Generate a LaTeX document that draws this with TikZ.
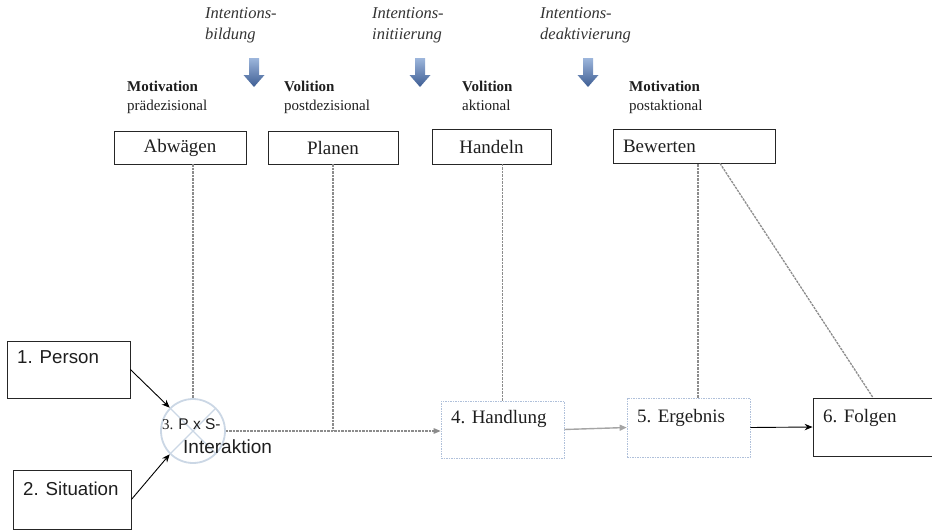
\documentclass[tikz,border=0pt]{standalone}
\usepackage{fontspec}
\setmainfont{Liberation Serif}
\newfontfamily\arialf{Liberation Sans}
\usetikzlibrary{arrows.meta,calc}
\definecolor{dgray}{HTML}{8C8C8C}
\definecolor{lgray}{HTML}{A5A5A5}
\definecolor{lblue}{HTML}{AFC0DA}
\definecolor{cblue}{HTML}{CBD7E5}
\definecolor{abluetop}{HTML}{9DB6DC}
\definecolor{abluebot}{HTML}{3D5D93}
\definecolor{txt}{HTML}{1E1E1E}
\tikzset{
  topbox/.style={draw=black!85, line width=0.8pt, minimum height=33pt, inner sep=0pt, font=\fontsize{19}{22}\selectfont, text=txt},
  lowbox/.style={draw=lblue, line width=0.7pt, dash pattern=on 1.5pt off 1pt, inner sep=0pt},
  solidbox/.style={draw=black!85, line width=0.8pt, inner sep=0pt},
  lbl/.style={anchor=base west, inner sep=0pt, text=txt},
  boxlbl/.style={lbl, font=\fontsize{19}{22}\selectfont},
  sanslbl/.style={lbl, font=\arialf\fontsize{18.7}{22}\selectfont},
  phase/.style={anchor=base west, inner sep=0pt, text=txt, font=\fontsize{15}{19}\selectfont, align=left},
  intent/.style={anchor=base west, inner sep=0pt, text=black!80, font=\itshape\fontsize{16.5}{21}\selectfont, align=left},
  dline/.style={draw=dgray, line width=1.3pt, dash pattern=on 2.5pt off 1pt},
  blackarrow/.style={draw=black, line width=0.9pt, -{Stealth[length=8pt,width=6.5pt]}},
  grayarrow/.style={draw=lgray, line width=1.4pt, -{Triangle[length=7pt,width=6pt]}},
  blockarrow/.pic={
    \shade[top color=abluetop, bottom color=abluebot]
      (-5,0) -- (5,0) -- (5,17) -- (10.5,17) -- (0,29) -- (-10.5,17) -- (-5,17) -- cycle;
  }
}
\begin{document}
\begin{tikzpicture}[x=1pt,y=-1pt]
\useasboundingbox (0,0) rectangle (932,530);

% intention labels and arrows (anchor = baseline of last line)
\node[intent] (i1) at (205,39) {Intentions-\\bildung};
\node[intent] (i2) at (372,39) {Intentions-\\initiierung};
\node[intent] (i3) at (540,39) {Intentions-\\deaktivierung};
\pic at (254,58) {blockarrow};
\pic at (420,58) {blockarrow};
\pic at (588,58) {blockarrow};

% phase labels
\node[phase] (p1) at (127,110) {\textbf{Motivation}\\prädezisional};
\node[phase] (p2) at (284,110) {\textbf{Volition}\\postdezisional};
\node[phase] (p3) at (462,110) {\textbf{Volition}\\aktional};
\node[phase] (p4) at (629,110) {\textbf{Motivation}\\postaktional};

% top boxes
\node[topbox, minimum width=132pt] (abw) at (180,147.5) {Abwägen};
\node[topbox, minimum width=130pt] (plan) at (333,147.5) {Planen};
\node[topbox, minimum width=119pt, minimum height=35pt] (handeln) at (491.5,146.5) {Handeln};
\node[topbox, text width=142pt, inner xsep=10pt, align=left, minimum height=34pt] (bew) at (694,146) {Bewerten};

% lower boxes
\node[lowbox, minimum width=123pt, minimum height=57pt] (hand) at (502.5,429.5) {};
\node[boxlbl] (handt) at (451,423) {4. Handlung};
\node[lowbox, minimum width=123pt, minimum height=59pt] (erg) at (688.5,427.5) {};
\node[boxlbl] (ergt) at (637,422) {5. Ergebnis};
\node[solidbox, minimum width=120pt, minimum height=58pt] (fol) at (873,427) {};
\node[boxlbl] (folt) at (823,422) {6. Folgen};
\node[solidbox, minimum width=123pt, minimum height=57pt] (per) at (68.5,369.5) {};
\node[sanslbl] (pert) at (17,363) {1. Person};
\node[solidbox, minimum width=118pt, minimum height=59pt] (sit) at (72,499.5) {};
\node[sanslbl] (sitt) at (23,495) {2. Situation};

% circle
\node[circle, draw=cblue, line width=1.8pt, minimum size=64pt, inner sep=0pt] (circ) at (193,431) {};
\draw[cblue, line width=1.2pt] ($(circ.center)+(22,-22)$) -- ($(circ.center)+(-22,22)$)
  ($(circ.center)+(-22,-22)$) -- ($(circ.center)+(22,22)$);
\node[lbl, font=\fontsize{15}{18}\selectfont] (pxs) at (162,429) {3. {\arialf\fontsize{15.5}{18}\selectfont P x S-}};
\node[lbl, font=\arialf\fontsize{19}{22}\selectfont] (inter) at (183,453) {Interaktion};

% dashed connectors
\draw[dline] (circ.north |- abw.south) -- (circ.north);
\draw[dline] (plan.south) -- (plan.south |- circ.east);
\draw[dline, -{Triangle[length=7pt,width=5.5pt]}] (circ.east) -- (circ.east -| hand.west);
\draw[dline] (hand.north) -- (hand.north |- handeln.south);
\coordinate (ergtop) at ([xshift=9.5pt]erg.north);
\draw[dline] (ergtop) -- (ergtop |- bew.south);
\draw[dline] ([xshift=26pt]bew.south) -- (fol.north);

% solid arrows
\draw[blackarrow] (per.east) -- (circ.north west);
\draw[blackarrow] (sit.east) -- (circ.south west);
\draw[grayarrow] (hand.east) -- (erg.west);
\draw[blackarrow] (erg.east) -- (fol.west);
\end{tikzpicture}
\end{document}
